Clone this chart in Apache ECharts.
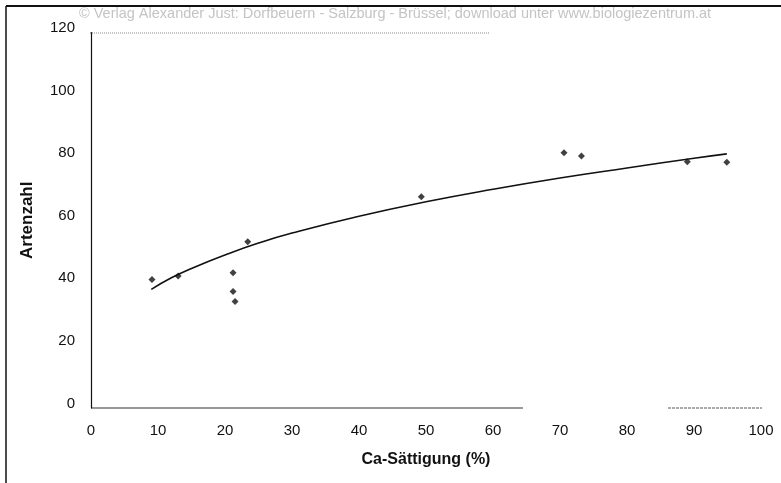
<!DOCTYPE html>
<html>
<head>
<meta charset="utf-8">
<script src="https://cdn.jsdelivr.net/npm/echarts@6/dist/echarts.min.js"></script>
<style>html,body{margin:0;padding:0;background:#fff;}#c{width:781px;height:483px;}</style>
</head>
<body>
<div id="c"></div>
<script>
// Observed data points (Ca-Sättigung %, Artenzahl)
const pointX = [9.1, 13.0, 21.2, 21.2, 21.5, 23.4, 49.3, 70.6, 73.2, 89.0, 94.9];
const pointY = [41.1, 42.2, 43.2, 37.2, 34.0, 53.1, 67.5, 81.6, 80.5, 78.7, 78.5];
// Trend curve
const curveX = [9, 12, 15, 20, 25, 30, 40, 50, 60, 70, 80, 90, 94.9];
const curveY = [37.9, 41.6, 44.6, 48.9, 52.7, 55.9, 61.3, 65.9, 69.9, 73.5, 76.7, 79.8, 81.2];
const xTicks = [0, 10, 20, 30, 40, 50, 60, 70, 80, 90, 100];
const yTicks = [0, 20, 40, 60, 80, 100, 120];
const watermark = '© Verlag Alexander Just: Dorfbeuern - Salzburg - Brüssel; download unter www.biologiezentrum.at';

const chart = echarts.init(document.getElementById('c'), null, {renderer: 'canvas'});
const font = 'Liberation Sans, Arial, sans-serif';
chart.setOption({
  animation: false,
  backgroundColor: '#fff',
  grid: {left: 91, right: 20, top: 32.5, bottom: 75},
  xAxis: {
    type: 'value', min: xTicks[0], max: xTicks[xTicks.length - 1], interval: 10,
    name: 'Ca-Sättigung (%)', nameLocation: 'middle', nameGap: 44,
    nameTextStyle: {fontFamily: font, fontSize: 16, fontWeight: 'bold', color: '#111'},
    axisLine: {show: false}, axisTick: {show: false}, splitLine: {show: false},
    axisLabel: {fontFamily: font, fontSize: 15, color: '#111', margin: 15}
  },
  yAxis: {
    type: 'value', min: yTicks[0], max: yTicks[yTicks.length - 1], interval: 20,
    name: 'Artenzahl', nameLocation: 'middle', nameGap: 55, nameRotate: 90,
    nameTextStyle: {fontFamily: font, fontSize: 17, fontWeight: 'bold', color: '#111'},
    axisLine: {show: true, lineStyle: {color: '#111', width: 1.2}},
    axisTick: {show: false}, splitLine: {show: false},
    axisLabel: {fontFamily: font, fontSize: 15, color: '#111', margin: 16, verticalAlign: 'bottom', lineHeight: 9}
  },
  series: [
    {
      type: 'line', data: curveX.map((x, i) => [x, curveY[i]]),
      smooth: true, showSymbol: false, symbol: 'none',
      lineStyle: {color: '#111', width: 1.6}, z: 2
    },
    {
      type: 'scatter', data: pointX.map((x, i) => [x, pointY[i]]),
      symbol: 'diamond', symbolSize: 7,
      itemStyle: {color: '#111'}, z: 3
    }
  ],
  graphic: [
    {type: 'text', left: 79, top: 6, style: {text: watermark, font: '14.5px ' + font, fill: '#c4c4c4'}, z: 10},
    {type: 'line', shape: {x1: 6, y1: 6, x2: 781, y2: 6}, style: {stroke: '#111', lineWidth: 1.8}},
    {type: 'line', shape: {x1: 6, y1: 6, x2: 6, y2: 483}, style: {stroke: '#111', lineWidth: 1.5}},
    {type: 'line', shape: {x1: 90, y1: 33, x2: 490, y2: 33}, style: {stroke: '#888', lineWidth: 1, lineDash: [1, 1]}},
    {type: 'line', shape: {x1: 91, y1: 408, x2: 523, y2: 408}, style: {stroke: '#333', lineWidth: 1.2}},
    {type: 'line', shape: {x1: 668, y1: 408, x2: 762, y2: 408}, style: {stroke: '#555', lineWidth: 1, lineDash: [3, 1]}}
  ]
});
</script>
</body>
</html>
